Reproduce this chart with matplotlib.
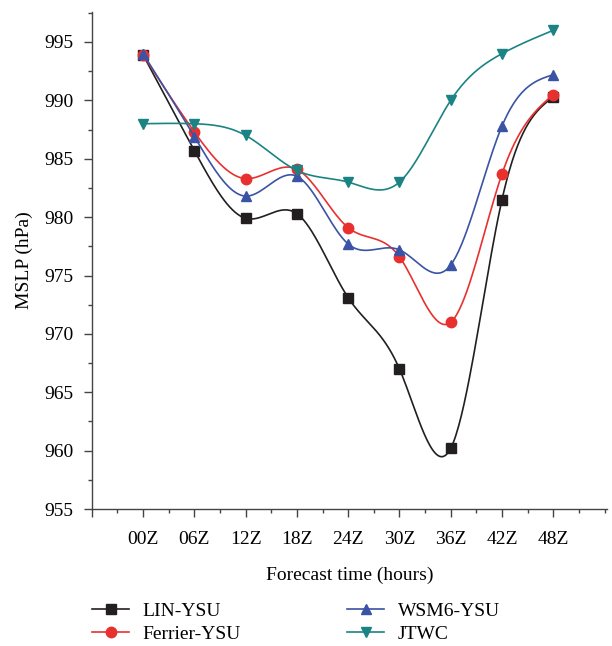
import numpy as np
import matplotlib.pyplot as plt
from matplotlib.ticker import MultipleLocator

plt.rcParams['font.family'] = ['Liberation Serif', 'DejaVu Serif']

times = ["00Z", "06Z", "12Z", "18Z", "24Z", "30Z", "36Z", "42Z", "48Z"]
lin_ysu = [993.9, 985.7, 979.9, 980.3, 973.1, 967.0, 960.2, 981.5, 990.3]
ferrier_ysu = [993.9, 987.3, 983.3, 984.1, 979.1, 976.6, 971.0, 983.7, 990.5]
wsm6_ysu = [994.0, 986.9, 981.8, 983.5, 977.7, 977.2, 975.9, 987.8, 992.2]
jtwc = [988.0, 988.0, 987.0, 984.0, 983.0, 983.0, 990.0, 994.0, 996.0]


def natural_spline(x, y, n=300):
    # natural cubic spline, like Origin's spline connect
    x = np.asarray(x, float)
    y = np.asarray(y, float)
    k = len(x)
    h = np.diff(x)
    A = np.zeros((k, k))
    b = np.zeros(k)
    A[0, 0] = A[-1, -1] = 1
    for i in range(1, k - 1):
        A[i, i - 1] = h[i - 1]
        A[i, i] = 2 * (h[i - 1] + h[i])
        A[i, i + 1] = h[i]
        b[i] = 6 * ((y[i + 1] - y[i]) / h[i] - (y[i] - y[i - 1]) / h[i - 1])
    M = np.linalg.solve(A, b)
    xs = np.linspace(x[0], x[-1], n)
    idx = np.clip(np.searchsorted(x, xs) - 1, 0, k - 2)
    x0, x1 = x[idx], x[idx + 1]
    hh = x1 - x0
    t0 = x1 - xs
    t1 = xs - x0
    ys = (M[idx] * t0 ** 3 + M[idx + 1] * t1 ** 3) / (6 * hh) \
        + (y[idx] / hh - M[idx] * hh / 6) * t0 \
        + (y[idx + 1] / hh - M[idx + 1] * hh / 6) * t1
    return xs, ys


fig = plt.figure(figsize=(6.12, 6.46), dpi=100)
ax = fig.add_axes([0.150, 0.212, 0.842, 0.770])

series = [
    ("LIN-YSU", lin_ysu, "#231f20", "s"),
    ("Ferrier-YSU", ferrier_ysu, "#e8312f", "o"),
    ("WSM6-YSU", wsm6_ysu, "#3a53a4", "^"),
    ("JTWC", jtwc, "#1b8383", "v"),
]

x = np.arange(len(times))
handles = []
for name, vals, col, mk in series:
    xs, ys = natural_spline(x, vals)
    ax.plot(xs, ys, color=col, lw=1.2)
    ax.plot(x, vals, ls="none", marker=mk, color=col, ms=7.5)
    h, = ax.plot([], [], color=col, lw=1.2, marker=mk, ms=7.5, label=name)
    handles.append(h)

ax.set_xlim(-1, 9.05)
ax.set_ylim(955, 997.6)
ax.set_xticks(np.arange(-1, 9))
ax.set_xticklabels([""] + times)
ax.xaxis.set_minor_locator(MultipleLocator(0.5))
ax.yaxis.set_minor_locator(MultipleLocator(2.5))
ax.set_yticks([955, 960, 965, 970, 975, 980, 985, 990, 995])

for s in ["top", "right"]:
    ax.spines[s].set_visible(False)
for s in ["left", "bottom"]:
    ax.spines[s].set_color("#444444")
    ax.spines[s].set_linewidth(1.0)

ax.tick_params(axis="both", which="major", direction="out", length=6,
               width=1, color="#444444", labelsize=14)
ax.tick_params(axis="x", which="major", pad=10)
ax.tick_params(axis="y", which="major", pad=7)
ax.tick_params(axis="both", which="minor", direction="out", length=3,
               width=1, color="#444444")

ax.set_xlabel("Forecast time (hours)", fontsize=14, labelpad=13)
ax.set_ylabel("MSLP (hPa)", fontsize=14, labelpad=8)

fig.legend(handles=[handles[0], handles[1], handles[2], handles[3]],
           loc="lower left", bbox_to_anchor=(0.146, 0.0), ncol=2,
           frameon=False, fontsize=14, columnspacing=5.45,
           handlelength=1.9, handletextpad=0.7, labelspacing=0.3,
           borderaxespad=0, borderpad=0.15)

fig.savefig("out.png", dpi=100)
